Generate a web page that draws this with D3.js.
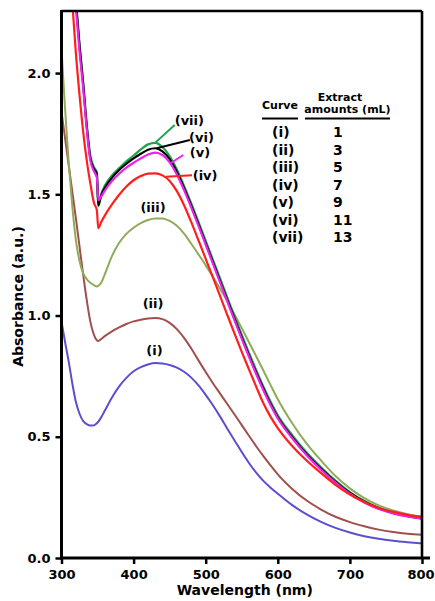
<!DOCTYPE html>
<html>
<head>
<meta charset="utf-8">
<script src="https://cdn.jsdelivr.net/npm/d3@7/dist/d3.min.js"></script>
<style>
  html, body { margin: 0; padding: 0; background: #fff; }
  svg { display: block; }
  text { font-family: "DejaVu Sans", Verdana, sans-serif; font-weight: bold; fill: #000; }
</style>
</head>
<body>
<svg id="chart" width="435" height="601"></svg>
<script>
// ---------------- data ----------------
const wavelengths = [300,305,310,315,320,325,330,335,340,345,349,351,355,360,370,380,390,400,410,420,430,440,450,460,470,480,490,500,510,520,530,540,550,560,570,580,590,600,620,640,660,680,700,720,740,760,780,800];

const curveI = [0.975,0.89,0.81,0.72,0.643,0.595,0.565,0.552,0.546,0.547,0.556,0.562,0.58,0.607,0.662,0.708,0.743,0.770,0.787,0.798,0.804,0.802,0.796,0.785,0.768,0.744,0.712,0.673,0.63,0.583,0.533,0.485,0.437,0.392,0.352,0.318,0.29,0.265,0.218,0.18,0.149,0.124,0.105,0.09,0.079,0.071,0.065,0.06];
const curveII = [1.84,1.73,1.62,1.51,1.40,1.285,1.17,1.064,0.975,0.92,0.898,0.895,0.903,0.915,0.935,0.951,0.965,0.976,0.983,0.988,0.990,0.985,0.970,0.944,0.908,0.864,0.815,0.767,0.721,0.678,0.635,0.592,0.548,0.504,0.461,0.42,0.382,0.345,0.285,0.237,0.2,0.17,0.148,0.131,0.117,0.107,0.1,0.096];
const curveIII = [2.10,1.85,1.63,1.45,1.31,1.225,1.175,1.15,1.135,1.125,1.12,1.122,1.135,1.17,1.245,1.30,1.337,1.362,1.381,1.394,1.40,1.40,1.39,1.37,1.338,1.296,1.252,1.207,1.16,1.11,1.058,1.004,0.948,0.89,0.832,0.773,0.713,0.655,0.556,0.472,0.402,0.338,0.287,0.247,0.217,0.196,0.181,0.170];
const curveIV = [2.95,2.74,2.52,2.29,2.08,1.91,1.76,1.64,1.545,1.465,1.435,1.36,1.385,1.412,1.458,1.498,1.532,1.558,1.575,1.585,1.586,1.578,1.555,1.513,1.455,1.385,1.31,1.234,1.157,1.08,1.002,0.925,0.85,0.778,0.707,0.638,0.582,0.536,0.462,0.402,0.350,0.302,0.262,0.231,0.206,0.190,0.178,0.170];
const curveV = [3.18,2.98,2.73,2.48,2.27,2.09,1.94,1.77,1.64,1.595,1.57,1.475,1.49,1.515,1.555,1.585,1.61,1.63,1.648,1.664,1.672,1.662,1.632,1.582,1.517,1.445,1.37,1.292,1.214,1.136,1.058,0.98,0.904,0.83,0.759,0.692,0.63,0.576,0.494,0.424,0.364,0.311,0.265,0.229,0.202,0.184,0.171,0.162];
const curveVI = [3.2,3.0,2.75,2.5,2.29,2.11,1.957,1.78,1.648,1.605,1.585,1.455,1.495,1.525,1.568,1.60,1.626,1.648,1.667,1.684,1.69,1.677,1.645,1.592,1.525,1.452,1.376,1.298,1.22,1.142,1.064,0.986,0.91,0.836,0.765,0.698,0.635,0.58,0.498,0.428,0.368,0.314,0.268,0.232,0.205,0.186,0.173,0.163];
const curveVII = [3.22,3.02,2.77,2.52,2.30,2.12,1.965,1.79,1.66,1.612,1.59,1.45,1.50,1.535,1.578,1.608,1.636,1.66,1.685,1.706,1.712,1.695,1.658,1.602,1.535,1.462,1.386,1.308,1.23,1.152,1.074,0.996,0.92,0.846,0.775,0.707,0.644,0.589,0.507,0.435,0.374,0.319,0.272,0.235,0.207,0.188,0.174,0.164];

const curveNames = ["(i)","(ii)","(iii)","(iv)","(v)","(vi)","(vii)"];
const extractAmounts = ["1","3","5","7","9","11","13"];
const curveColors = ["#5a4fd0","#a0504c","#8fab58","#ff1f1f","#ee22ee","#000000","#1fa34c"];
const seriesValues = [curveI, curveII, curveIII, curveIV, curveV, curveVI, curveVII];

const xTicks = [300,400,500,600,700,800];
const yTicks = [0.0,0.5,1.0,1.5,2.0];

// label anchors in data units: [wavelength, absorbance]
const labelPos = [[429,0.837],[427,1.031],[427,1.428],[482,1.559],[478,1.655],[477,1.717],[457,1.786]];
// leader lines for upper curves [x1,y1,x2,y2] in data units
const leaders = {3:[445,1.572,481,1.579], 4:[452,1.63,469,1.662], 5:[432,1.69,478,1.724], 6:[429,1.71,457,1.786]};

// ---------------- layout ----------------
const svg = d3.select("#chart");
const L = 61.5, R = 422, T = 11, B = 558;
const x = d3.scaleLinear().domain([300,800]).range([L,R]);
const y = d3.scaleLinear().domain([0,2.256]).range([B,T]);

svg.append("defs").append("clipPath").attr("id","clip")
  .append("rect").attr("x",L).attr("y",T).attr("width",R-L).attr("height",B-T);

const line = d3.line()
  .x(d => x(d[0])).y(d => y(d[1]))
  .curve(d3.curveMonotoneX);

const drawOrder = [0,1,2,6,5,4,3];
const g = svg.append("g").attr("clip-path","url(#clip)");
drawOrder.forEach(i => {
  const pts = wavelengths.map((w,k) => [w, seriesValues[i][k]]);
  g.append("path").datum(pts)
    .attr("d", line)
    .attr("fill","none")
    .attr("stroke", curveColors[i])
    .attr("stroke-width", i >= 3 ? 2.2 : 2)
    .attr("stroke-linejoin","round");
});

// leader lines
Object.keys(leaders).forEach(k => {
  const l = leaders[k];
  svg.append("line")
    .attr("x1",x(l[0])).attr("y1",y(l[1])).attr("x2",x(l[2])).attr("y2",y(l[3]))
    .attr("stroke",curveColors[k]).attr("stroke-width",2);
});

// curve labels
curveNames.forEach((n,i) => {
  const p = labelPos[i];
  svg.append("text")
    .attr("x",x(p[0])).attr("y",y(p[1]))
    .attr("text-anchor", i >= 3 ? "start" : "middle")
    .attr("font-size","13px")
    .text(n);
});

// frame (top & right)
svg.append("line").attr("x1",L).attr("x2",R).attr("y1",T).attr("y2",T).attr("stroke","#000").attr("stroke-width",2.6);
svg.append("line").attr("x1",R).attr("x2",R).attr("y1",T).attr("y2",B).attr("stroke","#000").attr("stroke-width",2.6);

// axes
const xAxis = d3.axisBottom(x).tickValues(xTicks).tickSize(6).tickPadding(3).tickFormat(d3.format("d"));
const yAxis = d3.axisLeft(y).tickValues(yTicks).tickSize(6).tickPadding(5).tickFormat(d3.format(".1f"));

const gx = svg.append("g").attr("transform",`translate(0,${B})`).call(xAxis);
const gy = svg.append("g").attr("transform",`translate(${L},0)`).call(yAxis);
[gx,gy].forEach(a => {
  a.select(".domain").remove();
  a.selectAll(".tick line").attr("stroke","#000").attr("stroke-width",2.5);
  a.selectAll(".tick text").attr("font-size","13px").attr("fill","#000");
});
gx.selectAll(".tick text").attr("dy","0.95em").attr("dx", d => d === 800 ? "-1.5" : "0");
// axis lines
svg.append("line").attr("x1",L).attr("x2",R+8).attr("y1",B).attr("y2",B).attr("stroke","#000").attr("stroke-width",3);
svg.append("line").attr("x1",L).attr("x2",L).attr("y1",T-1).attr("y2",B+1.5).attr("stroke","#000").attr("stroke-width",3);

// axis titles
svg.append("text").attr("x",(L+R)/2+3).attr("y",595).attr("text-anchor","middle").attr("font-size","14px").text("Wavelength (nm)");
svg.append("text").attr("transform",`translate(23,${(T+B)/2 + 12}) rotate(-90)`).attr("text-anchor","middle").attr("font-size","14px").text("Absorbance (a.u.)");

// legend table
const lg = svg.append("g");
lg.append("text").attr("x",262).attr("y",109).attr("font-size","11px").text("Curve");
lg.append("text").attr("x",340).attr("y",100.5).attr("text-anchor","middle").attr("font-size","11px").text("Extract");
lg.append("text").attr("x",347.5).attr("y",113).attr("text-anchor","middle").attr("font-size","11px").text("amounts (mL)");
lg.append("line").attr("x1",262).attr("x2",298).attr("y1",118.5).attr("y2",118.5).attr("stroke","#000").attr("stroke-width",2);
lg.append("line").attr("x1",305).attr("x2",390).attr("y1",118.5).attr("y2",118.5).attr("stroke","#000").attr("stroke-width",2);
curveNames.forEach((n,i) => {
  const yy = 137 + i*17.5;
  lg.append("text").attr("x",272).attr("y",yy).attr("font-size","14px").text(n);
  lg.append("text").attr("x",333).attr("y",yy).attr("font-size","14px").text(extractAmounts[i]);
});
</script>
</body>
</html>
